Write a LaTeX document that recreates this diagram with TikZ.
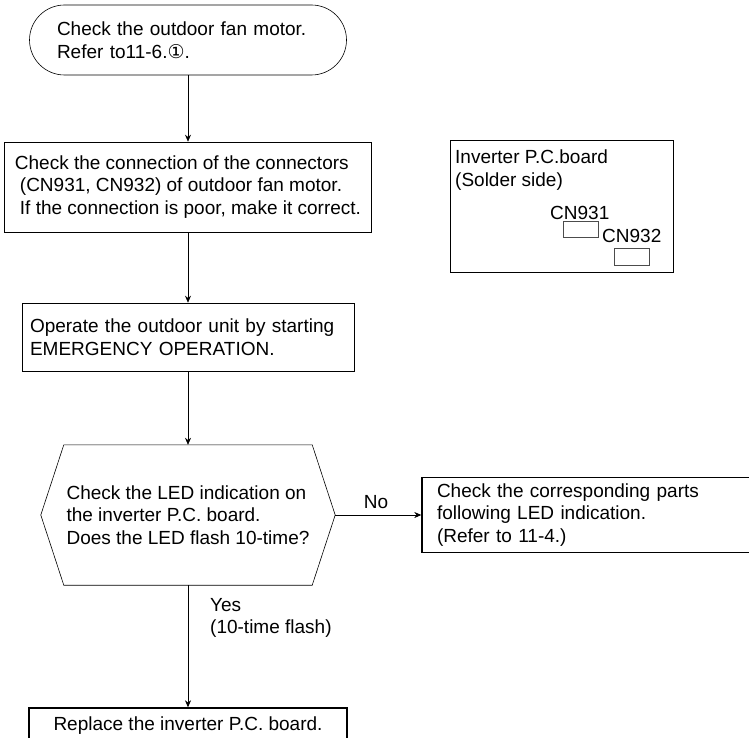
\documentclass[tikz,border=0pt]{standalone}
\usepackage{fontspec}
\setmainfont{Liberation Sans}
\newfontfamily\symfont{DejaVu Sans}
\usetikzlibrary{arrows.meta,positioning}
\tikzset{
  box/.style={draw,line width=0.6pt,align=left,inner ysep=0pt,font=\fontsize{19}{22.5}\selectfont},
  heavy/.style={box,line width=1.4pt},
  arr/.style={-{Stealth[length=7pt,width=6pt]},line width=0.6pt},
  lbl/.style={align=left,inner sep=0pt,font=\fontsize{19}{22.5}\selectfont},
  cn/.style={draw=black!70,line width=0.6pt,minimum width=35pt,minimum height=16pt,inner sep=0pt},
}
\begin{document}
\begin{tikzpicture}
 \useasboundingbox (0,0) rectangle (749pt,-738pt);
 % main column
 \node[box,rounded corners=35pt,minimum width=317pt,minimum height=70pt,text width=262pt,inner xsep=27.5pt] (start) at (188pt,-40pt){Check the outdoor fan motor.\\Refer to11-6.{\symfont ①}.};
 \node[box,minimum width=367pt,minimum height=90pt,inner xsep=4pt] (conn) at (188pt,-187pt){Check the connection of the connectors\\\hspace*{5pt}(CN931, CN932) of outdoor fan motor.\\\hspace*{5pt}If the connection is poor, make it correct.};
 \node[box,minimum width=332pt,minimum height=68pt,text width=316pt,inner xsep=8pt] (emerg) at (188pt,-337pt){Operate the outdoor unit by starting\\EMERGENCY OPERATION.};
 \node[lbl,minimum width=294pt,minimum height=140pt] (led) at (188pt,-515pt){Check the LED indication on\\the inverter P.C. board.\\Does the LED flash 10-time?};
 \draw[line width=0.6pt] (led.west) -- ([xshift=23pt]led.north west) -- ([xshift=-23pt]led.north east) -- (led.east) -- ([xshift=-23pt]led.south east) -- ([xshift=23pt]led.south west) -- cycle;
 \node[heavy,minimum width=318pt,minimum height=36pt] (fin) at (188pt,-726pt){Replace the inverter P.C. board.};
 \foreach \a/\b in {start/conn,conn/emerg,emerg/led,led/fin}{\draw[arr] (\a) -- (\b);}
 \node[lbl,anchor=west] (yes) at (210pt,-618pt){Yes\\(10-time flash)};
 % No branch
 \node[heavy,minimum width=340pt,minimum height=75pt,text width=310pt,inner xsep=15pt] (parts) at (592pt,-515pt){Check the corresponding parts\\following LED indication.\\(Refer to 11-4.)};
 \draw[arr] (led) -- (parts);
 \node[lbl] (no) at (376pt,-502pt){No};
 % board sketch
 \node[box,minimum width=223pt,minimum height=132pt] (board) at (561.5pt,-206pt){};
 \node[lbl,anchor=north west] (boardname) at (455pt,-150pt){Inverter P.C.board\\(Solder side)};
 \node[lbl,anchor=base west] (cn931lbl) at (550pt,-219pt){CN931};
 \node[cn] (cn931) at (580.5pt,-229pt){};
 \node[lbl,anchor=base west] (cn932lbl) at (602pt,-242pt){CN932};
 \node[cn,minimum height=17pt] (cn932) at (631.5pt,-256.5pt){};
\end{tikzpicture}
\end{document}
